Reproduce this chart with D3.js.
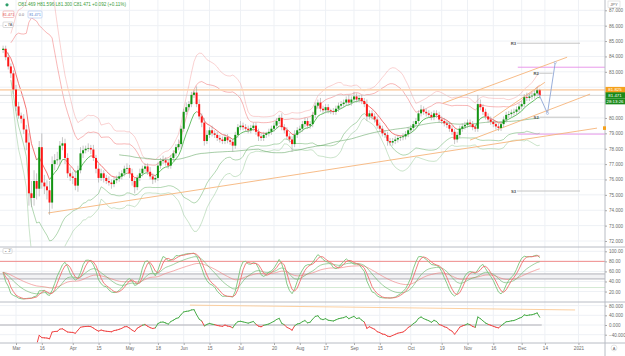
<!DOCTYPE html>
<html><head><meta charset="utf-8">
<script src="https://cdn.jsdelivr.net/npm/d3@7"></script>
<style>
html,body{margin:0;padding:0;background:#fff;}
svg{display:block;font-family:"Liberation Sans",Arial,sans-serif;}
</style></head><body>
<svg id="c" width="625" height="356"></svg>
<script>
// ---------------- DATA ----------------
const closes = [
84.50,83.95,83.35,82.90,81.85,80.75,80.15,79.95,79.25,78.40,
75.10,74.80,75.90,75.40,78.10,75.80,75.55,75.30,74.50,77.00,
77.25,77.30,78.20,78.35,77.40,76.40,76.20,76.10,75.60,76.60,
77.70,77.90,78.00,78.05,77.95,77.40,76.70,76.10,76.40,76.10,
75.90,75.80,75.70,75.95,76.05,76.20,76.40,76.70,76.75,76.40,
75.90,75.50,76.10,76.40,76.70,76.85,76.50,76.20,76.00,76.10,
76.90,77.20,77.25,77.10,76.90,77.40,77.70,78.10,78.30,79.30,
80.40,80.70,80.90,81.50,81.65,80.90,80.10,79.70,78.50,78.90,
79.20,79.00,78.90,78.70,78.60,78.50,78.75,78.55,78.45,78.20,
78.90,79.40,79.50,79.40,79.30,79.20,79.35,79.50,79.10,78.80,
78.70,78.90,79.00,79.10,79.30,79.50,79.80,80.00,79.40,79.20,
78.80,78.60,78.30,78.90,79.20,79.30,79.60,79.80,79.50,79.60,
80.20,80.80,81.00,80.60,80.50,80.70,80.50,80.45,80.40,80.60,
80.80,80.90,81.00,81.20,81.00,81.20,81.40,81.20,81.30,81.10,
80.90,80.10,80.30,80.10,79.90,79.50,79.30,79.00,78.90,78.50,
78.40,78.50,78.60,78.70,78.75,78.80,78.95,79.20,79.35,79.60,
79.80,80.30,80.55,80.40,80.30,80.20,80.05,80.30,80.20,79.90,
79.80,79.65,79.55,79.30,79.10,78.60,78.90,79.30,79.45,79.55,
79.70,79.60,79.40,79.30,80.90,80.70,80.40,80.10,79.90,79.75,
79.60,79.45,79.35,79.60,79.90,80.20,80.25,80.35,80.40,80.55,
80.75,80.90,81.35,81.30,81.40,81.45,81.60,81.80,81.47];
const wickUp = [
.2,.2,.3,.2,.2,.3,.3,.2,.3,.3, .6,.8,.7,.5,.4,.9,.5,.4,.6,.5,
.4,.5,.3,.4,.3,.3,.4,.3,.5,.3, .4,.3,.2,.3,.2,.3,.2,.3,.3,.2,
.2,.3,.2,.2,.2,.3,.2,.2,.3,.2, .3,.2,.2,.3,.2,.2,.2,.3,.2,.2,
.2,.2,.3,.2,.2,.2,.2,.2,.3,.2, .2,.3,.2,.2,.2,.4,.3,.2,.3,.3,
.2,.3,.2,.2,.2,.2,.2,.2,.2,.2, .2,.2,.3,.2,.2,.2,.2,.2,.2,.2,
.2,.2,.1,.2,.2,.2,.2,.2,.3,.2, .2,.2,.2,.3,.2,.2,.2,.2,.2,.2,
.2,.2,.2,.3,.2,.2,.2,.1,.2,.2, .2,.2,.2,.2,.3,.2,.3,.2,.2,.2,
.2,.3,.2,.2,.2,.2,.2,.2,.2,.2, .2,.2,.2,.2,.1,.2,.2,.2,.2,.2,
.2,.2,.3,.2,.2,.2,.2,.2,.2,.2, .2,.2,.2,.2,.2,.2,.2,.2,.2,.2,
.2,.2,.2,.2,.6,.3,.2,.2,.2,.2, .2,.2,.2,.2,.2,.2,.2,.2,.2,.2,
.2,.2,.2,.3,.2,.2,.2,.2,.1];
const wickDn = [
.2,.2,.2,.3,.3,.3,.2,.3,.3,.5, .8,.6,.5,.7,.5,.4,.5,.6,.8,.4,
.4,.3,.4,.3,.4,.3,.3,.4,.3,.4, .2,.3,.2,.2,.3,.2,.3,.3,.2,.3,
.2,.2,.3,.2,.2,.2,.2,.2,.2,.3, .3,.4,.2,.2,.2,.2,.2,.2,.3,.2,
.2,.2,.2,.2,.2,.2,.2,.2,.2,.3, .2,.2,.2,.2,.2,.2,.2,.3,.3,.2,
.2,.2,.2,.2,.2,.2,.2,.2,.2,.4, .2,.2,.2,.2,.2,.2,.2,.2,.2,.3,
.2,.2,.2,.2,.2,.2,.2,.2,.2,.2, .2,.2,.5,.2,.2,.2,.2,.2,.2,.2,
.2,.2,.2,.2,.2,.2,.2,.2,.2,.2, .2,.2,.2,.2,.2,.2,.2,.2,.2,.2,
.2,.3,.2,.2,.2,.2,.2,.2,.2,.3, .2,.2,.2,.2,.2,.2,.2,.2,.2,.2,
.2,.2,.2,.2,.2,.2,.2,.2,.2,.2, .2,.2,.2,.2,.2,.3,.2,.2,.2,.2,
.2,.2,.2,.2,.2,.2,.2,.2,.2,.2, .2,.2,.2,.2,.2,.2,.2,.2,.2,.2,
.2,.2,.2,.2,.2,.2,.2,.2,.2];
const firstOpen = 84.42;

const tickIdx    = [5,15,27,37,49,60,70,80,92,105,115,125,136,146,158,170,180,190,201,210,223];
const tickLabels = ["Mar","16","Apr","15","May","18","Jun","15","Jul","20","Aug","17","Sep","15","Oct","19","Nov","16","Dec","14","2021"];
const priceTicks = [72,73,74,75,76,77,78,79,80,81,82,83,84,85,86,87];
const priceLabelTicks = [72,73,74,75,76,77,78,79,80,83,84,85,86,87];
const stochTicks = [20,40,60,80,100];
const oscTicks   = [-40,0,40,80];

// trend lines (bar index, price)
const trendX1 = [17.4, 181.0, 170.5, 189.9];
const trendY1 = [73.82, 78.56, 80.96, 79.99];
const trendX2 = [230.2, 227.5, 218.6, 210.0];
const trendY2 = [79.34, 81.55, 83.95, 82.32];

// pivot levels
const pivotLabels = ["R3","R2","S2","S3"];
const pivotPrice  = [84.86, 82.91, 80.05, 75.25];
const pivotStart  = [199.2, 208.0, 208.0, 199.2];
const pivotEnd    = [223.6, 213.0, 223.6, 223.6];

// magenta levels
const magentaPrice = [83.30, 78.95];
const magentaStart = 199.5;

// projection path
const projIdx   = [207.5, 211.0, 214.0];
const projPrice = [81.60, 80.30, 83.60];

const levelPrice = 81.825;
const lastPrice  = 81.471;
const oscLineIdx = [72.4, 221.7];
const oscLineVal = [82, 62];
const stochLevels = [80, 55, 45, 28];

// ---------------- DERIVED ----------------
const N = closes.length;
const opens = closes.map((c,i)=> i===0 ? firstOpen : closes[i-1]);
const highs = closes.map((c,i)=> Math.max(c,opens[i]) + wickUp[i]);
const lows  = closes.map((c,i)=> Math.min(c,opens[i]) - wickDn[i]);

function win(arr,i,n){return arr.slice(Math.max(0,i-n+1), i+1);}
const bb = closes.map((c,i)=>{
  const w = win(closes,i,20); const m = d3.mean(w);
  const sd = Math.sqrt(d3.mean(w.map(v=>(v-m)*(v-m))));
  return {i, m, sd};
});
const sma100 = closes.map((c,i)=>({i, v:d3.mean(win(closes,i,100))}));
const ema = []; {let e=closes[0]; const k=2/9; closes.forEach((c,i)=>{e = i===0?c:(c*k+e*(1-k)); ema.push(e);});}

// stochastic
const kRaw = closes.map((c,i)=>{
  const hh = d3.max(win(highs,i,14)), ll = d3.min(win(lows,i,14));
  return hh===ll?50:100*(c-ll)/(hh-ll);
});
const kS = kRaw.map((v,i)=>d3.mean(win(kRaw,i,3)));
const dS = kS.map((v,i)=>d3.mean(win(kS,i,3)));
function emaOf(arr,n){const k=2/(n+1);let e=arr[0];return arr.map((v,i)=> e = i===0?v:(v*k+e*(1-k)));}
const slowG = emaOf(kS,12), slowR = emaOf(kS,30);

// RSI-based oscillator (2*(RSI-50))
const osc = [];
{let ag=0, al=0;
 for(let i=1;i<N;i++){
   const ch = closes[i]-closes[i-1];
   const g = Math.max(ch,0), l = Math.max(-ch,0);
   if(i===1){ag=g;al=l;} else {ag=(ag*13+g)/14; al=(al*13+l)/14;}
   const rsi = (ag+al)===0?50:100*ag/(ag+al);
   osc.push({i, v:2*(rsi-50)});
 }}

// ---------------- DRAW ----------------
const svg = d3.select("#c");
const W=625, AX=605;
const x  = d3.scaleLinear().domain([0,200]).range([3.1,519.1]);
const yP = d3.scaleLinear().domain([72,87]).range([241,10.3]);
const yS = d3.scaleLinear().domain([0,100]).range([301.6,251.3]);
const yO = d3.scaleLinear().domain([-40,40]).range([334.7,315.3]);

const defs = svg.append("defs");
defs.append("clipPath").attr("id","cpMain").append("rect").attr("x",0).attr("y",0).attr("width",AX).attr("height",246.5);
defs.append("clipPath").attr("id","cpSto").append("rect").attr("x",0).attr("y",247.5).attr("width",AX).attr("height",54);
defs.append("clipPath").attr("id","cpOsc").append("rect").attr("x",0).attr("y",302.5).attr("width",AX).attr("height",40);

// grid
const grid = svg.append("g");
tickIdx.forEach(t=>grid.append("line").attr("x1",x(t)).attr("x2",x(t)).attr("y1",0).attr("y2",343).attr("stroke","#eef1f5").attr("stroke-width",1));
priceTicks.forEach(t=>grid.append("line").attr("x1",0).attr("x2",AX).attr("y1",yP(t)).attr("y2",yP(t)).attr("stroke","#eef1f5"));
stochTicks.forEach(t=>grid.append("line").attr("x1",0).attr("x2",AX).attr("y1",yS(t)).attr("y2",yS(t)).attr("stroke","#eef1f5"));
oscTicks.forEach(t=>grid.append("line").attr("x1",0).attr("x2",AX).attr("y1",yO(t)).attr("y2",yO(t)).attr("stroke","#eef1f5"));

// ---- main pane
const gm = svg.append("g").attr("clip-path","url(#cpMain)");
const ln = d3.line().x(d=>x(d.i)).y(d=>yP(d.v));
const bbD = bb.filter(d=>d.i>=3);
[[2,"rgba(238,90,90,0.55)"],[3,"rgba(240,130,130,0.45)"]].forEach(([k,col])=>{
  gm.append("path").attr("d",ln(bbD.map(d=>({i:d.i,v:d.m+k*d.sd})))).attr("fill","none").attr("stroke",col).attr("stroke-width",0.8);
});
[[2,"rgba(80,165,80,0.55)"],[3,"rgba(110,180,110,0.45)"]].forEach(([k,col])=>{
  gm.append("path").attr("d",ln(bbD.map(d=>({i:d.i,v:d.m-k*d.sd})))).attr("fill","none").attr("stroke",col).attr("stroke-width",0.8);
});
gm.append("path").attr("d",ln(sma100.filter(d=>d.i>=45))).attr("fill","none").attr("stroke","rgba(70,150,70,0.6)").attr("stroke-width",0.8);
for(let i=1;i<N;i++){
  gm.append("line").attr("x1",x(i-1)).attr("y1",yP(ema[i-1])).attr("x2",x(i)).attr("y2",yP(ema[i]))
    .attr("stroke", closes[i]>=ema[i]?"#3fae3f":"#f05050").attr("stroke-width",0.8);
}
// horizontal levels
gm.append("line").attr("x1",0).attr("x2",AX).attr("y1",yP(levelPrice)).attr("y2",yP(levelPrice)).attr("stroke","#fbd6b4").attr("stroke-width",1.6);
gm.append("line").attr("x1",0).attr("x2",AX).attr("y1",yP(lastPrice)).attr("y2",yP(lastPrice)).attr("stroke","#c8c8c8").attr("stroke-width",0.8);
magentaPrice.forEach(p=>gm.append("line").attr("x1",x(magentaStart)).attr("x2",AX).attr("y1",yP(p)).attr("y2",yP(p)).attr("stroke","#e58ce8").attr("stroke-width",0.9));
// trend lines
trendX1.forEach((_,k)=>gm.append("line").attr("x1",x(trendX1[k])).attr("y1",yP(trendY1[k])).attr("x2",x(trendX2[k])).attr("y2",yP(trendY2[k])).attr("stroke","#f6b47a").attr("stroke-width",0.9));
// pivots
pivotLabels.forEach((lb,k)=>{
  gm.append("line").attr("x1",x(pivotStart[k])).attr("x2",x(pivotEnd[k])).attr("y1",yP(pivotPrice[k])).attr("y2",yP(pivotPrice[k])).attr("stroke","#c4c4c4").attr("stroke-width",1);
  gm.append("text").attr("x",x(pivotStart[k])-1).attr("y",yP(pivotPrice[k])+1.5).attr("text-anchor","end").attr("font-size",4.2).attr("font-weight","bold").attr("fill","#555").text(lb);
});
// candles
const cg = gm.append("g");
closes.forEach((c,i)=>{
  const o=opens[i], up=c>=o, col= up?"#129412":"#ff1616";
  cg.append("line").attr("x1",x(i)).attr("x2",x(i)).attr("y1",yP(highs[i])).attr("y2",yP(lows[i])).attr("stroke","#a0a0a0").attr("stroke-width",0.6);
  const y1=yP(Math.max(o,c)), y2=yP(Math.min(o,c));
  cg.append("rect").attr("x",x(i)-1).attr("y",y1).attr("width",2).attr("height",Math.max(0.7,y2-y1)).attr("fill",col);
});
// projection
const proj = projIdx.map((p,k)=>({i:p,v:projPrice[k]}));
gm.append("path").attr("d",ln(proj)).attr("fill","none").attr("stroke","#8ea6d6").attr("stroke-width",0.9);
proj.slice(1).forEach(d=>gm.append("circle").attr("cx",x(d.i)).attr("cy",yP(d.v)).attr("r",1.1).attr("fill","#fff").attr("stroke","#8ea6d6").attr("stroke-width",0.6));

// ---- stochastic pane
const gs = svg.append("g").attr("clip-path","url(#cpSto)");
gs.append("rect").attr("x",0).attr("width",AX).attr("y",yS(stochLevels[1])).attr("height",yS(stochLevels[2])-yS(stochLevels[1])).attr("fill","#f2f2f4");
gs.append("line").attr("x1",0).attr("x2",AX).attr("y1",yS(stochLevels[0])).attr("y2",yS(stochLevels[0])).attr("stroke","#f08080").attr("stroke-width",0.9);
[stochLevels[1],stochLevels[2]].forEach(v=>gs.append("line").attr("x1",0).attr("x2",AX).attr("y1",yS(v)).attr("y2",yS(v)).attr("stroke","#a8a8b0").attr("stroke-width",0.9));
gs.append("line").attr("x1",0).attr("x2",AX).attr("y1",yS(stochLevels[3])).attr("y2",yS(stochLevels[3])).attr("stroke","#cfe8cf").attr("stroke-width",0.9);
const lnS = d3.line().x((d,i)=>x(i)).y(d=>yS(d));
gs.append("path").attr("d",lnS(slowR)).attr("fill","none").attr("stroke","rgba(240,120,120,0.75)").attr("stroke-width",0.8);
gs.append("path").attr("d",lnS(slowG)).attr("fill","none").attr("stroke","rgba(100,180,100,0.75)").attr("stroke-width",0.8);
gs.append("path").attr("d",lnS(kS)).attr("fill","none").attr("stroke","#7cc47c").attr("stroke-width",0.9);
gs.append("path").attr("d",lnS(dS)).attr("fill","none").attr("stroke","#f07070").attr("stroke-width",0.9);

// ---- oscillator pane
const go = svg.append("g").attr("clip-path","url(#cpOsc)");
go.append("line").attr("x1",0).attr("x2",x(N-1)+2).attr("y1",yO(0)).attr("y2",yO(0)).attr("stroke","#a8a8b0").attr("stroke-width",0.9);
go.append("line").attr("x1",x(oscLineIdx[0])).attr("x2",x(oscLineIdx[1])).attr("y1",yO(oscLineVal[0])).attr("y2",yO(oscLineVal[1])).attr("stroke","#fbc995").attr("stroke-width",0.9);
for(let k=1;k<osc.length;k++){
  const a=osc[k-1], b=osc[k];
  go.append("line").attr("x1",x(a.i)).attr("y1",yO(a.v)).attr("x2",x(b.i)).attr("y2",yO(b.v))
    .attr("stroke", b.v>=0?"#4cae4c":"#f04848").attr("stroke-width",1).attr("stroke-linecap","round");
}

// ---- separators & axes
const sep = svg.append("g").attr("stroke","#b8bcc4").attr("stroke-width",1);
[247,302,343].forEach(y=>sep.append("line").attr("x1",0).attr("x2",W).attr("y1",y).attr("y2",y));
sep.append("line").attr("x1",AX).attr("x2",AX).attr("y1",0).attr("y2",356);

function styleAxis(g){
  g.select(".domain").remove();
  g.selectAll(".tick line").attr("stroke","#aaa");
  g.selectAll(".tick text").attr("fill","#6b6b6b").attr("font-size",4.6).attr("font-family","Liberation Sans, Arial, sans-serif");
}
svg.append("g").attr("transform",`translate(${AX},0)`).call(d3.axisRight(yP).tickValues(priceLabelTicks).tickFormat(d3.format(".3f")).tickSize(2).tickPadding(2)).call(styleAxis);
svg.append("g").attr("transform",`translate(${AX},0)`).call(d3.axisRight(yS).tickValues(stochTicks).tickFormat(d3.format(".2f")).tickSize(2).tickPadding(2)).call(styleAxis);
svg.append("g").attr("transform",`translate(${AX},0)`).call(d3.axisRight(yO).tickValues(oscTicks).tickFormat(d3.format(".3f")).tickSize(2).tickPadding(2)).call(styleAxis);
svg.append("g").attr("transform","translate(0,343)").call(d3.axisBottom(x).tickValues(tickIdx).tickFormat((d,i)=>tickLabels[i]).tickSize(2).tickPadding(1.5)).call(styleAxis);

// price tags
function tag(y,txt,col){
  svg.append("rect").attr("x",AX+0.5).attr("y",y-3).attr("width",19.5).attr("height",6).attr("fill",col);
  svg.append("text").attr("x",AX+10).attr("y",y+1.6).attr("text-anchor","middle").attr("font-size",4.4).attr("fill","#fff").text(txt);
}
tag(yP(levelPrice),"81.825","#f5a11c");
tag(yP(lastPrice),"81.471","#1a8a1a");
tag(yP(lastPrice)+6,"28:13:26","#1a8a1a");
svg.append("rect").attr("x",AX-2).attr("y",yP(trendY2[0])-1.8).attr("width",3).attr("height",3.6).attr("fill","#f5a11c");

// top right currency box
svg.append("rect").attr("x",608).attr("y",1).attr("width",12).attr("height",6.5).attr("fill","#fff").attr("stroke","#ccc").attr("stroke-width",0.5);
svg.append("text").attr("x",614).attr("y",5.8).attr("text-anchor","middle").attr("font-size",4).attr("fill","#666").text("JPY");
// bottom right button
svg.append("circle").attr("cx",614).attr("cy",348).attr("r",3).attr("fill","#fff").attr("stroke","#ccc").attr("stroke-width",0.5);
svg.append("text").attr("x",614).attr("y",349.6).attr("text-anchor","middle").attr("font-size",4).attr("fill","#666").text("A");

// header
svg.append("circle").attr("cx",7).attr("cy",4.8).attr("r",1.6).attr("fill","#2e9e6a");
svg.append("text").attr("x",18).attr("y",6.3).attr("font-size",4.6).attr("fill","#3c9c3c").text("O81.469 H81.596 L81.300 C81.471 +0.092 (+0.11%)");
svg.append("rect").attr("x",3).attr("y",11).attr("width",11).attr("height",6.5).attr("fill","#fff").attr("stroke","#f0a0a0").attr("stroke-width",0.6).attr("rx",1);
svg.append("text").attr("x",8.5).attr("y",15.6).attr("text-anchor","middle").attr("font-size",3.8).attr("fill","#e05050").text("81.471");
svg.append("text").attr("x",21.5).attr("y",15.6).attr("text-anchor","middle").attr("font-size",3.8).attr("fill","#777").text("0.0");
svg.append("rect").attr("x",28).attr("y",11).attr("width",14).attr("height",7).attr("fill","#fff").attr("stroke","#a8c4f0").attr("stroke-width",0.6).attr("rx",1);
svg.append("text").attr("x",35).attr("y",15.8).attr("text-anchor","middle").attr("font-size",3.8).attr("fill","#5080d0").text("81.471");
svg.append("rect").attr("x",3).attr("y",22).attr("width",10).attr("height",5.5).attr("fill","#fff").attr("stroke","#bbb").attr("stroke-width",0.5).attr("rx",0.8);
svg.append("text").attr("x",8).attr("y",26).attr("text-anchor","middle").attr("font-size",3.8).attr("fill","#555").text("⌄ 7A");
svg.append("rect").attr("x",3).attr("y",248.5).attr("width",9).attr("height",5).attr("fill","#fff").attr("stroke","#bbb").attr("stroke-width",0.5).attr("rx",0.8);
svg.append("text").attr("x",7.5).attr("y",252.3).attr("text-anchor","middle").attr("font-size",3.8).attr("fill","#555").text("⌄ 2");
</script>
</body></html>
